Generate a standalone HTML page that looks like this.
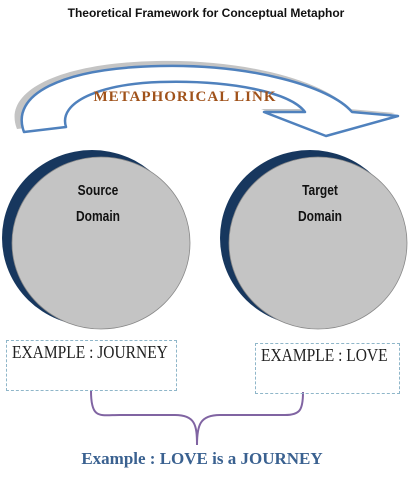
<!DOCTYPE html>
<html><head><style>
body{margin:0;background:#fff;width:412px;height:485px;overflow:hidden;position:relative;font-family:"Liberation Sans",sans-serif}
.t{position:absolute;left:0;width:412px;text-align:center;top:6px;font-size:12px;font-weight:bold;color:#111}
.box{position:absolute;border:1px dashed #8fb6c9;box-sizing:border-box}
.ex{position:absolute;font-family:"Liberation Serif",serif;font-size:15.5px;color:#222;transform:scaleY(1.15);transform-origin:left top}
.dom{position:absolute;font-family:"Liberation Sans Narrow","Liberation Sans",sans-serif;font-weight:bold;font-size:15px;color:#111;text-align:center;width:80px;line-height:26px;transform:scaleX(.8)}
</style></head><body>
<div class="t">Theoretical Framework for Conceptual Metaphor</div>
<svg width="412" height="485" style="position:absolute;left:0;top:0">
<path d="M20,132 C5,95 60,66 160,64 C250,62 330,85 352,112 L398,116 L326,136 L264,112 L305,112 C290,92 230,78 160,80 C100,82 55,100 64,127 Z" fill="#c4c4c4" transform="translate(-3,-3)"/>
<path d="M24,132 C10,95 60,68 160,66 C250,64 330,86 352,112 L398,116 L326,136 L264,112 L305,112 C290,92 230,80 160,82 C100,84 58,102 66,127 Z" fill="#fff" stroke="#4f81bd" stroke-width="2.5" stroke-linejoin="round"/>
<text x="185" y="101" text-anchor="middle" font-family="Liberation Serif,serif" font-weight="bold" font-size="15" fill="#a0521a" letter-spacing="1">METAPHORICAL LINK</text>
<ellipse cx="92" cy="238" rx="90" ry="88" fill="#17375e"/>
<ellipse cx="101" cy="243" rx="89" ry="86" fill="#c4c4c4" stroke="#888" stroke-width=".8"/>
<ellipse cx="310" cy="238" rx="90" ry="88" fill="#17375e"/>
<ellipse cx="318" cy="243" rx="89" ry="86" fill="#c4c4c4" stroke="#888" stroke-width=".8"/>
<path d="M91,391 C91,420 100,415 120,415 L175,415 C195,415 197,425 197,445 C197,425 200,415 220,415 L285,415 C300,415 303,410 303,392" fill="none" stroke="#8064a2" stroke-width="2"/>
</svg>
<div class="dom" style="left:58px;top:178px">Source<br>Domain</div>
<div class="dom" style="left:280px;top:178px">Target<br>Domain</div>
<div class="box" style="left:6px;top:340px;width:171px;height:51px"></div>
<div class="box" style="left:255px;top:343px;width:145px;height:51px"></div>
<div class="ex" style="left:12px;top:343px">EXAMPLE : JOURNEY</div>
<div class="ex" style="left:261px;top:346px">EXAMPLE : LOVE</div>
<div style="position:absolute;left:0;width:404px;text-align:center;top:449px;font-family:'Liberation Serif',serif;font-weight:bold;font-size:17px;color:#3a6190">Example : LOVE is a JOURNEY</div>
</body></html>
